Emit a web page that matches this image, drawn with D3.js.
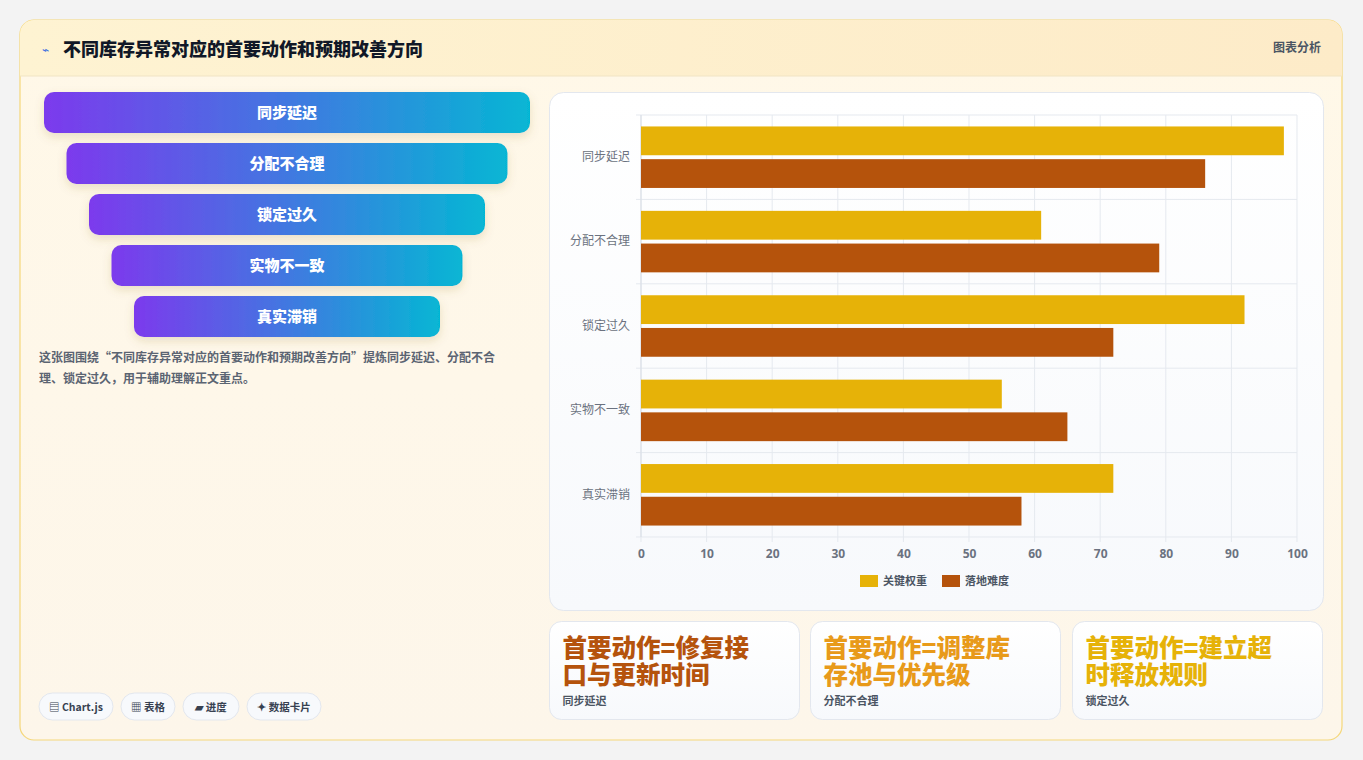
<!DOCTYPE html>
<html><head><meta charset="utf-8">
<script src="https://cdn.jsdelivr.net/npm/d3@7"></script>
<style>
body{margin:0;background:#f3f3f3;font-family:"Noto Sans CJK SC","Noto Sans",sans-serif;}
</style></head>
<body><svg id="c" width="1363" height="760"></svg>
<script>
// chart data
var categories = ["同步延迟", "分配不合理", "锁定过久", "实物不一致", "真实滞销"];
var seriesNames = ["关键权重", "落地难度"];
var keyWeight = [98, 61, 92, 55, 72];
var difficulty = [86, 79, 72, 65, 58];
var xTicks = [0, 10, 20, 30, 40, 50, 60, 70, 80, 90, 100];
var cardTitles = ["首要动作=修复接口与更新时间", "首要动作=调整库存池与优先级", "首要动作=建立超时释放规则"];
var cardSubs = ["同步延迟", "分配不合理", "锁定过久"];
var tags = ["▤ Chart.js", "▦ 表格", "▰ 进度", "✦ 数据卡片"];
var tagWidths = [74, 54, 56, 74];

var colors = ["#e6b208", "#b5530c"];
var cardColors = ["#b5530c", "#e89a1a", "#e6b208"];
var svg = d3.select("#c");
var defs = svg.append("defs");

var bg = defs.append("linearGradient").attr("id", "bg").attr("x1", 0).attr("y1", 0).attr("x2", 0).attr("y2", 1);
bg.append("stop").attr("offset", 0).attr("stop-color", "#fff8e8");
bg.append("stop").attr("offset", 1).attr("stop-color", "#fdf6ea");
var hg = defs.append("linearGradient").attr("id", "hg");
hg.append("stop").attr("offset", 0).attr("stop-color", "#fef3d2");
hg.append("stop").attr("offset", 1).attr("stop-color", "#fdebc8");
var fg = defs.append("linearGradient").attr("id", "fg");
fg.append("stop").attr("offset", 0).attr("stop-color", "#7c3aed");
fg.append("stop").attr("offset", 1).attr("stop-color", "#06b6d4");
var sh = defs.append("filter").attr("id", "sh").attr("x", "-10%").attr("y", "-30%").attr("width", "120%").attr("height", "180%");
sh.append("feDropShadow").attr("dx", 0).attr("dy", 4).attr("stdDeviation", 5).attr("flood-color", "#8a6a30").attr("flood-opacity", 0.18);
var clip = defs.append("clipPath").attr("id", "cardclip");
clip.append("rect").attr("x", 20).attr("y", 20).attr("width", 1322).attr("height", 720).attr("rx", 14);

// main card
svg.append("rect").attr("x", 20).attr("y", 20).attr("width", 1322).attr("height", 720).attr("rx", 14)
    .attr("fill", "url(#bg)").attr("stroke", "#f5d77a").attr("stroke-width", 1.2);
svg.append("rect").attr("x", 20).attr("y", 20).attr("width", 1322).attr("height", 56)
    .attr("fill", "url(#hg)").attr("clip-path", "url(#cardclip)");
svg.append("line").attr("x1", 20).attr("x2", 1342).attr("y1", 76).attr("y2", 76).attr("stroke", "#f1e4c4");
svg.append("text").attr("x", 42).attr("y", 54).attr("font-size", 12).attr("fill", "#3b6ee0").text("⌁");
svg.append("text").attr("x", 63).attr("y", 56).attr("font-size", 18).attr("font-weight", 900).attr("fill", "#111827")
    .text("不同库存异常对应的首要动作和预期改善方向");
svg.append("text").attr("x", 1321).attr("y", 52).attr("text-anchor", "end").attr("font-size", 12).attr("font-weight", 700)
    .attr("fill", "#4b5563").text("图表分析");

// funnel
categories.forEach(function(c, i) {
    var fx = 44 + i * 22.5, fw = 486 - i * 45, fy = 92 + i * 51;
    svg.append("rect").attr("x", fx).attr("y", fy).attr("width", fw).attr("height", 41).attr("rx", 10)
        .attr("fill", "url(#fg)").attr("filter", "url(#sh)");
    svg.append("text").attr("x", 287).attr("y", fy + 26).attr("text-anchor", "middle").attr("font-size", 15)
        .attr("font-weight", 900).attr("fill", "#fff").text(c);
});
svg.append("text").attr("x", 39).attr("y", 362).attr("font-size", 12).attr("font-weight", 700).attr("fill", "#5b6472")
    .text("这张图围绕“不同库存异常对应的首要动作和预期改善方向”提炼同步延迟、分配不合");
svg.append("text").attr("x", 39).attr("y", 383).attr("font-size", 12).attr("font-weight", 700).attr("fill", "#5b6472")
    .text("理、锁定过久，用于辅助理解正文重点。");

// tags
var tx = 39;
tags.forEach(function(t, i) {
    var w = tagWidths[i];
    svg.append("rect").attr("x", tx).attr("y", 693).attr("width", w).attr("height", 27).attr("rx", 13.5)
        .attr("fill", "#f7f9fc").attr("stroke", "#e3e7ee");
    svg.append("text").attr("x", tx + w / 2).attr("y", 711).attr("text-anchor", "middle").attr("font-size", 10.5)
        .attr("font-weight", 700).attr("fill", "#374151").text(t);
    tx += w + 8;
});

// chart panel
var pg = defs.append("linearGradient").attr("id", "pg").attr("x1", 0).attr("y1", 0).attr("x2", 0).attr("y2", 1);
pg.append("stop").attr("offset", 0).attr("stop-color", "#ffffff");
pg.append("stop").attr("offset", 1).attr("stop-color", "#f7f9fc");
svg.append("rect").attr("x", 549.5).attr("y", 92.5).attr("width", 774).attr("height", 518).attr("rx", 14)
    .attr("fill", "url(#pg)").attr("stroke", "#e3e7ee");

var plotL = 641, plotR = 1297, plotT = 115, plotB = 537;
var x = d3.scaleLinear().domain([0, 100]).range([plotL, plotR]);
var y = d3.scaleBand().domain(categories).range([plotT, plotB]);
var y2 = d3.scaleBand().domain(seriesNames).range([0, y.bandwidth()]).paddingInner(0.12).paddingOuter(0.35);

var g = svg.append("g");
g.selectAll(".vg").data(xTicks).enter().append("line")
    .attr("x1", d => x(d)).attr("x2", d => x(d)).attr("y1", plotT).attr("y2", plotB + 5).attr("stroke", "#e5e9ef");
g.selectAll(".hg").data(categories).enter().append("line")
    .attr("x1", plotL - 5).attr("x2", plotR).attr("y1", d => y(d)).attr("y2", d => y(d)).attr("stroke", "#e5e9ef");
g.append("line").attr("x1", plotL - 5).attr("x2", plotR).attr("y1", plotB).attr("y2", plotB).attr("stroke", "#e5e9ef");
g.append("line").attr("x1", plotL).attr("x2", plotL).attr("y1", plotT).attr("y2", plotB).attr("stroke", "#d8dde5");

[keyWeight, difficulty].forEach(function(vals, si) {
    g.selectAll(".b" + si).data(vals).enter().append("rect")
        .attr("x", x(0)).attr("y", (d, i) => y(categories[i]) + y2(seriesNames[si]))
        .attr("width", d => x(d) - x(0)).attr("height", y2.bandwidth())
        .attr("fill", colors[si]);
});

var xAxis = g.append("g").attr("transform", "translate(0," + plotB + ")")
    .call(d3.axisBottom(x).tickValues(xTicks).tickSize(0).tickPadding(12));
xAxis.select(".domain").remove();
xAxis.selectAll("text").attr("font-size", 12).attr("font-weight", 700).attr("fill", "#6b7280")
    .attr("font-family", "Noto Sans, sans-serif");
var yAxis = g.append("g").attr("transform", "translate(" + plotL + ",0)")
    .call(d3.axisLeft(y).tickSize(0).tickPadding(11));
yAxis.select(".domain").remove();
yAxis.selectAll("text").attr("font-size", 12).attr("fill", "#6b7280").attr("font-family", "Noto Sans CJK SC");

// legend
var lx = [860, 942];
seriesNames.forEach(function(n, i) {
    svg.append("rect").attr("x", lx[i]).attr("y", 575).attr("width", 18).attr("height", 12).attr("fill", colors[i]);
    svg.append("text").attr("x", lx[i] + 23).attr("y", 585).attr("font-size", 11).attr("font-weight", 700)
        .attr("fill", "#4b5563").text(n);
});

// bottom cards
var cardX = [549.5, 810.5, 1072.5];
cardTitles.forEach(function(t, i) {
    var cx = cardX[i];
    svg.append("rect").attr("x", cx).attr("y", 621.5).attr("width", 250).attr("height", 98).attr("rx", 12)
        .attr("fill", "url(#pg)").attr("stroke", "#e3e7ee");
    [t.slice(0, 8), t.slice(8)].forEach(function(l, k) {
        svg.append("text").attr("x", cx + 13).attr("y", 657 + k * 27).attr("font-size", 24.5).attr("font-weight", 900)
            .attr("fill", cardColors[i]).text(l);
    });
    svg.append("text").attr("x", cx + 13).attr("y", 705).attr("font-size", 11).attr("font-weight", 700)
        .attr("fill", "#4b5563").text(cardSubs[i]);
});
</script></body></html>
